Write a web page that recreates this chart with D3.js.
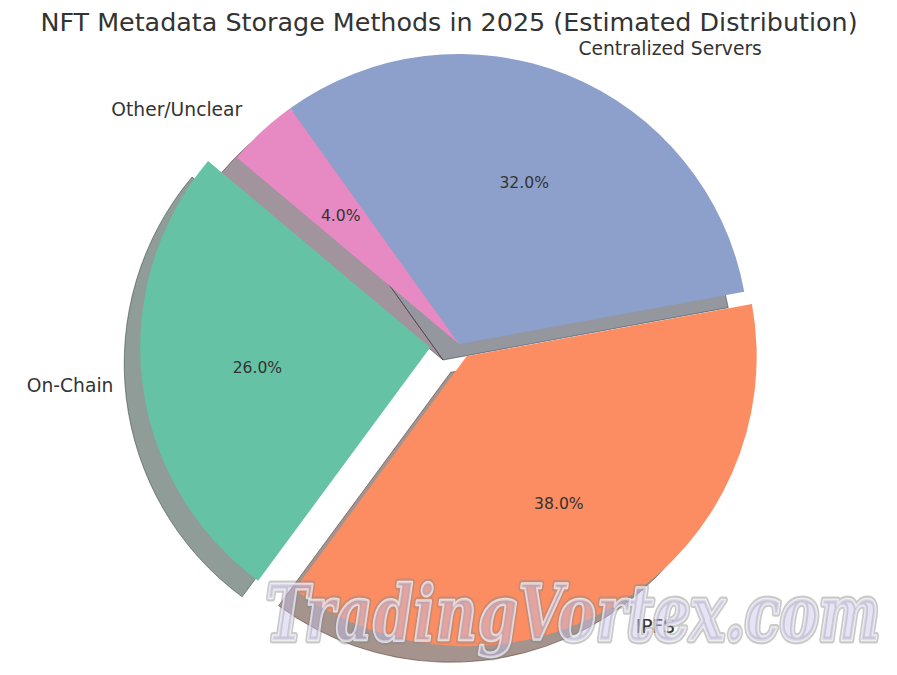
<!DOCTYPE html>
<html>
<head>
<meta charset="utf-8">
<script src="https://cdn.jsdelivr.net/npm/d3@7"></script>
<style>
  html, body { margin: 0; padding: 0; background: #ffffff; }
  svg { display: block; }
</style>
</head>
<body>
<div id="chart"></div>
<script>
// ---- data ----
const categories = ["On-Chain", "IPFS", "Centralized Servers", "Other/Unclear"];
const values = [26, 38, 32, 4];
const colors = ["#66c2a5", "#fc8d62", "#8da0cb", "#e78ac3"];
const explode = [0.1, 0.05, 0, 0];
const title = "NFT Metadata Storage Methods in 2025 (Estimated Distribution)";
const watermark = "TradingVortex.com";
const startAngleDeg = 140; // matplotlib convention (ccw from east)

// ---- layout ----
const W = 897, H = 675;
const cx = 459, cy = 344, R = 290;
const shadowDx = -16, shadowDy = 16;
const FONT = "'DejaVu Sans', sans-serif";
const textColor = "#333333";

const svg = d3.select("#chart").append("svg")
  .attr("width", W).attr("height", H)
  .attr("viewBox", `0 0 ${W} ${H}`);

svg.append("rect").attr("width", W).attr("height", H).attr("fill", "#ffffff");

// convert matplotlib start angle to d3 (clockwise from 12 o'clock), go counterclockwise
const toRad = d => d * Math.PI / 180;
const d3Start = toRad(90 - startAngleDeg);
const pie = d3.pie().sort(null).value(d => d)
  .startAngle(d3Start).endAngle(d3Start - 2 * Math.PI);
const arcs = pie(values);
const total = d3.sum(values);

const arc = d3.arc().innerRadius(0).outerRadius(R);

function offsetFor(d, i) {
  const mid = (d.startAngle + d.endAngle) / 2;
  const e = explode[i] * R;
  return [Math.sin(mid) * e, -Math.cos(mid) * e];
}

function shade(c) {
  const col = d3.rgb(c);
  return d3.rgb(col.r * 0.3, col.g * 0.3, col.b * 0.3).formatHex();
}

const g = svg.append("g");

// shadows first (beneath all wedges)
arcs.forEach((d, i) => {
  const [ox, oy] = offsetFor(d, i);
  g.append("path")
    .attr("d", arc(d))
    .attr("transform", `translate(${cx + ox + shadowDx},${cy + oy + shadowDy})`)
    .attr("fill", shade(colors[i]))
    .attr("fill-opacity", 0.5)
    .attr("stroke", shade(colors[i]))
    .attr("stroke-opacity", 0.5)
    .attr("stroke-width", 1);
});

// wedges
arcs.forEach((d, i) => {
  const [ox, oy] = offsetFor(d, i);
  g.append("path")
    .attr("d", arc(d))
    .attr("transform", `translate(${cx + ox},${cy + oy})`)
    .attr("fill", colors[i]);
});

// labels and percentages
arcs.forEach((d, i) => {
  const [ox, oy] = offsetFor(d, i);
  const mid = (d.startAngle + d.endAngle) / 2;
  const sx = Math.sin(mid), sy = -Math.cos(mid);
  const lx = cx + ox + sx * R * 1.1;
  const ly = cy + oy + sy * R * 1.1;
  svg.append("text")
    .attr("x", lx).attr("y", ly)
    .attr("text-anchor", sx >= 0 ? "start" : "end")
    .attr("dominant-baseline", "central")
    .attr("font-family", FONT)
    .attr("font-size", "18.7px")
    .attr("fill", textColor)
    .text(categories[i]);
  const px = cx + ox + sx * R * 0.6;
  const py = cy + oy + sy * R * 0.6;
  svg.append("text")
    .attr("x", px).attr("y", py)
    .attr("text-anchor", "middle")
    .attr("dominant-baseline", "central")
    .attr("font-family", FONT)
    .attr("font-size", "15.6px")
    .attr("fill", textColor)
    .text((values[i] / total * 100).toFixed(1) + "%");
});

// title
svg.append("text")
  .attr("x", W / 2 + 0.5).attr("y", 31)
  .attr("text-anchor", "middle")
  .attr("font-family", FONT)
  .attr("font-size", "25.4px")
  .attr("fill", textColor)
  .text(title);

// watermark
const wm = svg.append("g").attr("font-family", "'DejaVu Serif', serif")
  .attr("font-style", "italic").attr("font-weight", "bold")
  .attr("font-size", "76px");
wm.append("text")
  .attr("x", 266).attr("y", 640)
  .attr("textLength", 614).attr("lengthAdjust", "spacingAndGlyphs")
  .attr("fill", "none")
  .attr("stroke", "#8a8a8a").attr("stroke-width", 7)
  .attr("stroke-opacity", 0.45)
  .attr("stroke-linejoin", "round")
  .text(watermark);
wm.append("text")
  .attr("x", 266).attr("y", 640)
  .attr("textLength", 614).attr("lengthAdjust", "spacingAndGlyphs")
  .attr("fill", "#c8c0e6").attr("fill-opacity", 0.45)
  .attr("stroke", "#ffffff").attr("stroke-width", 2.5)
  .attr("stroke-opacity", 0.7)
  .attr("stroke-linejoin", "round")
  .attr("paint-order", "stroke")
  .text(watermark);
</script>
</body>
</html>
